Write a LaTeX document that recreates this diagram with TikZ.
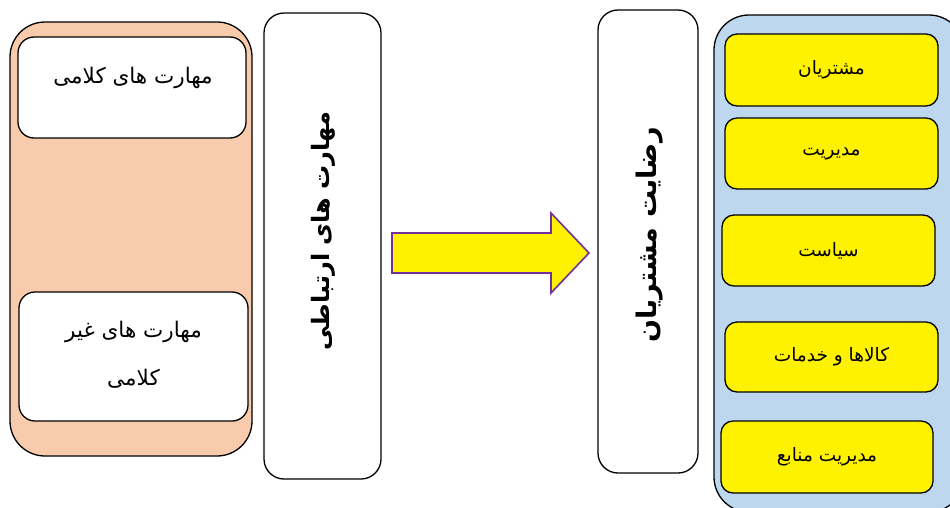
\documentclass[tikz,border=0pt]{standalone}
\usepackage{fontspec}
\TeXXeTstate=1
\newfontfamily\arabicfont[Script=Arabic]{DejaVu Sans}
\definecolor{peach}{HTML}{F8CBAD}
\definecolor{paleblue}{HTML}{BDD7EE}
\definecolor{arrowpurple}{HTML}{7030A0}
\tikzset{
  box/.style={draw=black, line width=1.3pt, inner sep=0pt},
  outerbox/.style={box, rounded corners=35pt},
  whitebox/.style={box, fill=white, rounded corners=16pt},
  tallbox/.style={box, fill=white, rounded corners=20pt},
  itembox/.style={box, fill=yellow, rounded corners=12pt, font=\arabicfont\fontsize{18.5}{22}\selectfont},
  txt/.style={inner sep=0pt, font=\arabicfont\fontsize{21.5}{26}\selectfont, align=center},
  bigtxt/.style={inner sep=0pt, rotate=90, font=\arabicfont\bfseries\fontsize{24}{28}\selectfont}
}
\begin{document}
\begin{tikzpicture}[x=1pt,y=-1pt]
\useasboundingbox (0,0) rectangle (950,507);
\clip (0,0) rectangle (950,507);
% left group
\node[outerbox, fill=peach, minimum width=242pt, minimum height=434pt] (L) at (131,239) {};
\node[whitebox, minimum width=228pt, minimum height=101pt] (L1) at (132,87.5) {};
\node[txt] (L1t) at (133,78) {\beginR مهارت های کلامی\endR};
\node[whitebox, minimum width=229pt, minimum height=129pt] (L2) at (133.5,356.5) {};
\node[txt] (L2t) at (133.5,355) {\beginR مهارت های غیر\endR\\[22pt]\beginR کلامی\endR};
% middle left tall box
\node[tallbox, minimum width=117pt, minimum height=466pt] (M1) at (322.5,246) {};
\node[bigtxt] (M1t) at (323,231) {\beginR مهارت های ارتباطی\endR};
% arrow
\coordinate (A1) at (392,233);
\coordinate (A2) at (551,233);
\coordinate (A3) at (551,213);
\coordinate (A4) at (589,253);
\coordinate (A5) at (551,293);
\coordinate (A6) at (551,273);
\coordinate (A7) at (392,273);
\draw[draw=arrowpurple, fill=yellow, line width=1.6pt, line join=miter]
  (A1) -- (A2) -- (A3) -- (A4) -- (A5) -- (A6) -- (A7) -- cycle;
% middle right tall box
\node[tallbox, minimum width=100pt, minimum height=463pt] (M2) at (648,241.5) {};
\node[bigtxt, font=\arabicfont\bfseries\fontsize{27}{31}\selectfont] (M2t) at (650,235) {\beginR رضایت مشتریان\endR};
% right group
\node[outerbox, fill=paleblue, minimum width=250pt, minimum height=497pt] (R) at (839,263.5) {};
\node[itembox, minimum width=213pt, minimum height=72pt] (R1) at (831.5,70) {\beginR مشتریان\endR};
\node[itembox, minimum width=213pt, minimum height=71pt] (R2) at (831.5,153.5) {\beginR مدیریت\endR};
\node[itembox, minimum width=213pt, minimum height=71pt] (R3) at (828.5,250.5) {\beginR سیاست\endR};
\node[itembox, minimum width=213pt, minimum height=70pt] (R4) at (831.5,357) {\beginR کالاها و خدمات\endR};
\node[itembox, minimum width=212pt, minimum height=72pt] (R5) at (827,457) {\beginR مدیریت منابع\endR};
\end{tikzpicture}
\end{document}
